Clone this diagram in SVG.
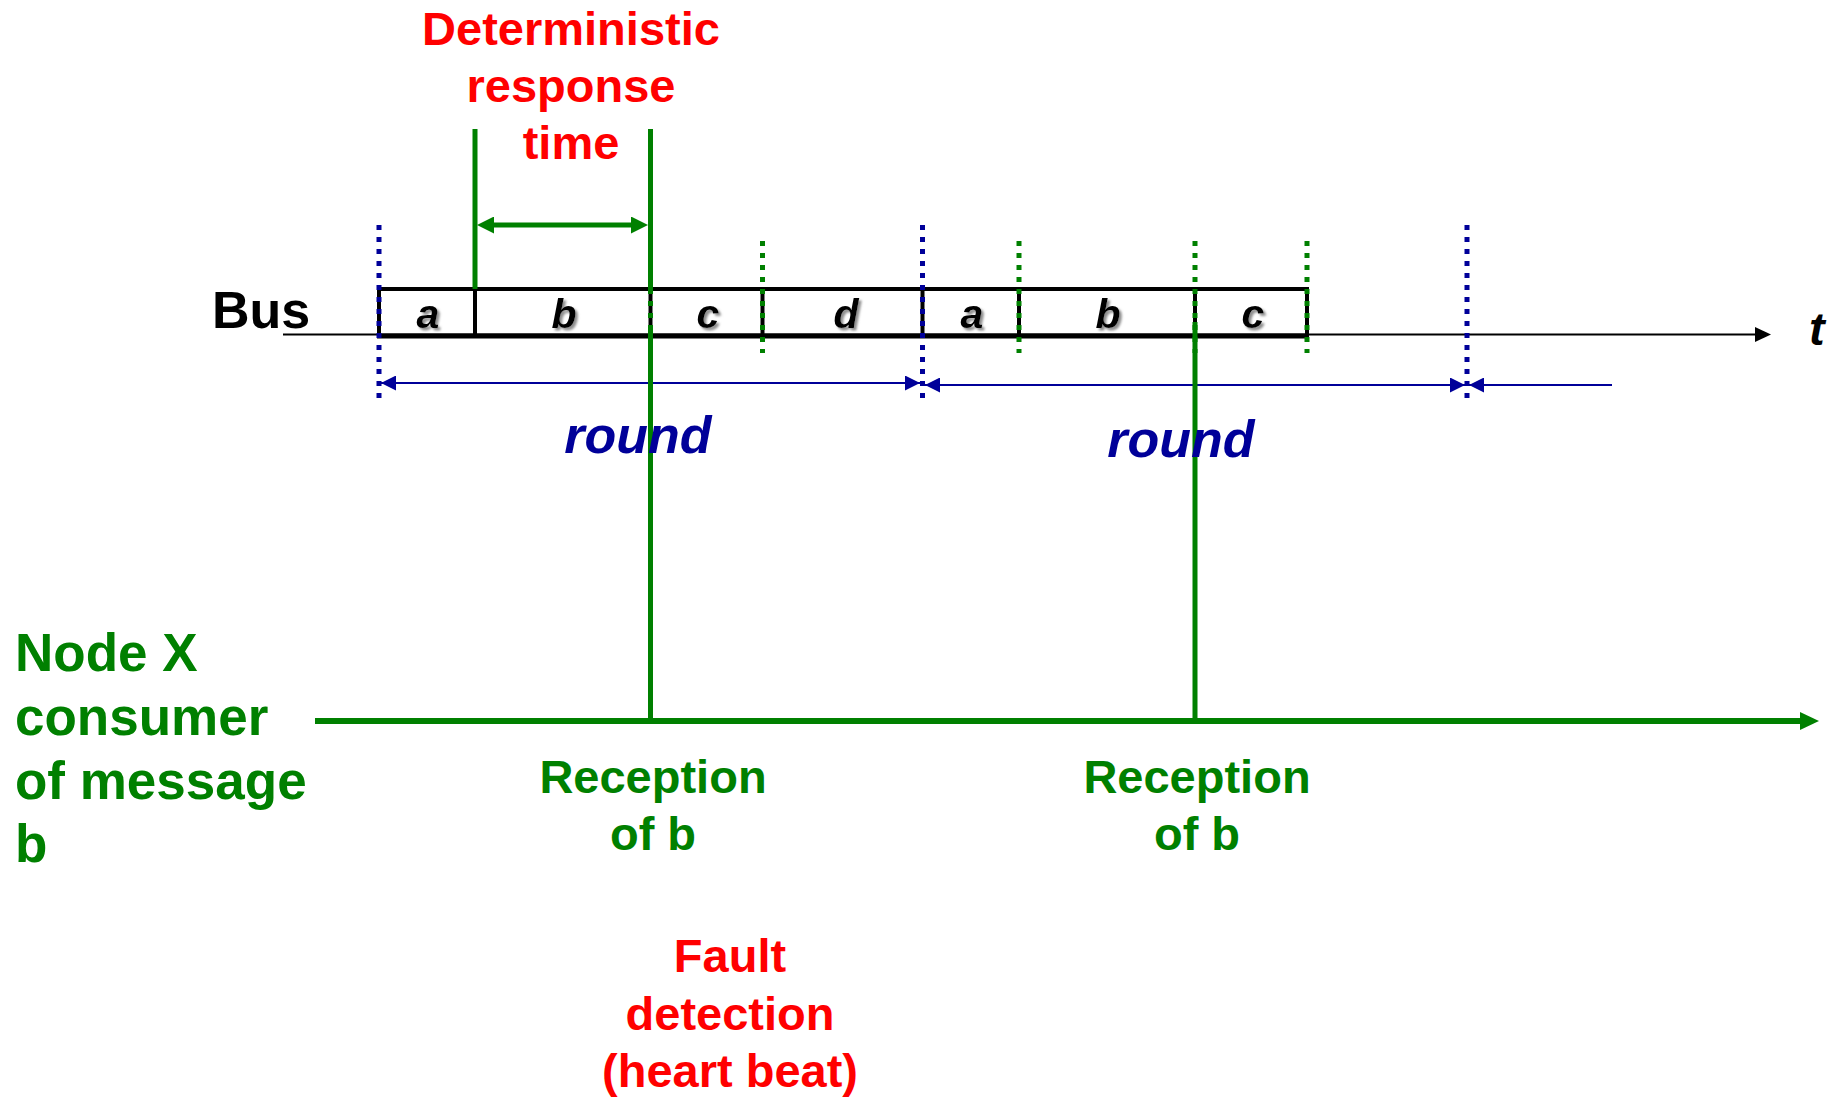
<svg xmlns="http://www.w3.org/2000/svg" width="1831" height="1098" viewBox="0 0 1831 1098">
  <style>
    text { font-family: "Liberation Sans", Arial, sans-serif; font-weight: bold; }
    .red { fill: #FF0000; font-size: 47px; text-anchor: middle; }
    .grn { fill: #008000; font-size: 47px; text-anchor: middle; }
    .node { fill: #008000; font-size: 53px; }
    .cell { fill: #000000; font-size: 41px; font-style: italic; text-anchor: middle; filter: url(#shadow); }
    .round { fill: #000099; font-size: 52px; font-style: italic; text-anchor: middle; }
    .frame { stroke: #000000; fill: none; }
    .div { stroke: #000000; stroke-width: 4; }
    .bdot { stroke: #000099; stroke-width: 5; stroke-dasharray: 5 7; }
    .gdot { stroke: #008000; stroke-width: 5; stroke-dasharray: 5 7; }
    .gsolid { stroke: #008000; stroke-width: 5; }
    .bline { stroke: #000099; stroke-width: 2; }
  </style>
  <defs>
    <filter id="shadow" x="-30%" y="-30%" width="170%" height="170%">
      <feDropShadow dx="2.5" dy="2.5" stdDeviation="1" flood-color="#808080" flood-opacity="0.9"/>
    </filter>
    <marker id="blueArrow" markerUnits="userSpaceOnUse" markerWidth="15" markerHeight="15" viewBox="0 0 15 15" refX="15" refY="7.5" orient="auto-start-reverse">
      <path d="M0,0 L15,7.5 L0,15 z" fill="#000099"/>
    </marker>
    <marker id="blackArrow" markerUnits="userSpaceOnUse" markerWidth="16" markerHeight="15" viewBox="0 0 16 15" refX="5" refY="7.5" orient="auto">
      <path d="M0,0 L16,7.5 L0,15 z" fill="#000000"/>
    </marker>
    <marker id="greenArrowBig" markerUnits="userSpaceOnUse" markerWidth="19" markerHeight="18" viewBox="0 0 19 18" refX="5" refY="9" orient="auto">
      <path d="M0,0 L19,9 L0,18 z" fill="#008000"/>
    </marker>
    <marker id="greenArrow" markerUnits="userSpaceOnUse" markerWidth="17" markerHeight="17" viewBox="0 0 17 17" refX="5" refY="8.5" orient="auto-start-reverse">
      <path d="M0,0 L17,8.5 L0,17 z" fill="#008000"/>
    </marker>
  </defs>

  <rect width="1831" height="1098" fill="#FFFFFF"/>

  <g id="bus">
    <line x1="283" y1="334.5" x2="1760" y2="334.5" stroke="#000000" stroke-width="2" marker-end="url(#blackArrow)"/>
    <line class="frame" x1="377" y1="289" x2="1309" y2="289" stroke-width="4"/>
    <line class="frame" x1="377" y1="336" x2="1309" y2="336" stroke-width="5"/>
    <line class="div" x1="379" y1="289" x2="379" y2="336"/>
    <line class="div" x1="475" y1="289" x2="475" y2="336"/>
    <line class="div" x1="650.5" y1="289" x2="650.5" y2="336"/>
    <line class="div" x1="762.5" y1="289" x2="762.5" y2="336"/>
    <line class="div" x1="922.5" y1="289" x2="922.5" y2="336"/>
    <line class="div" x1="1019" y1="289" x2="1019" y2="336"/>
    <line class="div" x1="1195" y1="289" x2="1195" y2="336"/>
    <line class="div" x1="1307" y1="289" x2="1307" y2="336"/>
    <text x="212" y="328" style="font-size:52px;fill:#000000">Bus</text>
    <text x="1809" y="345" style="font-size:47px;font-style:italic;fill:#000000">t</text>
  </g>

  <g id="slots">
    <text class="cell" x="428" y="328">a</text>
    <text class="cell" x="564" y="328">b</text>
    <text class="cell" x="708" y="328">c</text>
    <text class="cell" x="846" y="328">d</text>
    <text class="cell" x="972" y="328">a</text>
    <text class="cell" x="1108" y="328">b</text>
    <text class="cell" x="1253" y="328">c</text>
  </g>

  <g id="round-markers">
    <line class="bdot" x1="379" y1="225" x2="379" y2="399"/>
    <line class="bdot" x1="922.5" y1="225" x2="922.5" y2="399"/>
    <line class="bdot" x1="1467" y1="225" x2="1467" y2="399"/>
    <line class="gdot" x1="650.5" y1="241" x2="650.5" y2="353"/>
    <line class="gdot" x1="762.5" y1="241" x2="762.5" y2="353"/>
    <line class="gdot" x1="1019" y1="241" x2="1019" y2="353"/>
    <line class="gdot" x1="1195" y1="241" x2="1195" y2="353"/>
    <line class="gdot" x1="1307" y1="241" x2="1307" y2="353"/>
  </g>

  <g id="connectors">
    <line class="bline" x1="381" y1="383" x2="920" y2="383" marker-start="url(#blueArrow)" marker-end="url(#blueArrow)"/>
    <line class="bline" x1="925" y1="385" x2="1465" y2="385" marker-start="url(#blueArrow)" marker-end="url(#blueArrow)"/>
    <line class="bline" x1="1469" y1="385" x2="1612" y2="385" marker-start="url(#blueArrow)"/>
    <line class="gsolid" x1="475" y1="129" x2="475" y2="289"/>
    <line class="gsolid" x1="650.5" y1="129" x2="650.5" y2="289"/>
    <line class="gsolid" x1="650.5" y1="325" x2="650.5" y2="722"/>
    <line class="gsolid" x1="1195" y1="322" x2="1195" y2="722"/>
    <line x1="489" y1="225" x2="636" y2="225" stroke="#008000" stroke-width="5" marker-start="url(#greenArrow)" marker-end="url(#greenArrow)"/>
    <line x1="315" y1="721" x2="1805" y2="721" stroke="#008000" stroke-width="6" marker-end="url(#greenArrowBig)"/>
  </g>

  <g id="round-labels">
    <text class="round" x="638" y="453">round</text>
    <text class="round" x="1181" y="457">round</text>
  </g>

  <g id="deterministic-label">
    <text class="red" x="571" y="45">Deterministic</text>
    <text class="red" x="571" y="102">response</text>
    <text class="red" x="571" y="159">time</text>
  </g>

  <g id="node-x">
    <text class="node" x="15" y="671">Node X</text>
    <text class="node" x="15" y="735">consumer</text>
    <text class="node" x="15" y="799">of message</text>
    <text class="node" x="15" y="862">b</text>
  </g>

  <g id="reception-1">
    <text class="grn" x="653" y="793">Reception</text>
    <text class="grn" x="653" y="850">of b</text>
  </g>

  <g id="reception-2">
    <text class="grn" x="1197" y="793">Reception</text>
    <text class="grn" x="1197" y="850">of b</text>
  </g>

  <g id="fault-detection">
    <text class="red" x="730" y="972">Fault</text>
    <text class="red" x="730" y="1030">detection</text>
    <text class="red" x="730" y="1087">(heart beat)</text>
  </g>
</svg>
